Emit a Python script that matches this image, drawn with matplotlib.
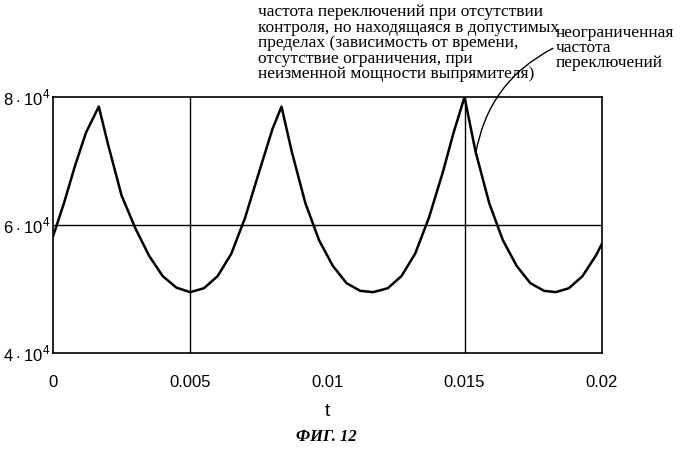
import matplotlib
matplotlib.use("Agg")
import matplotlib.pyplot as plt

t = [0, 0.0004, 0.0008, 0.0012, 0.00167, 0.002, 0.0025, 0.003, 0.0035, 0.004, 0.0045, 0.005,
     0.0055, 0.006, 0.0065, 0.007, 0.0075, 0.008, 0.00833, 0.0087, 0.0092, 0.0097, 0.0102,
     0.0107, 0.0112, 0.01167, 0.0122, 0.0127, 0.0132, 0.0137, 0.0142, 0.0146, 0.015, 0.0154,
     0.0159, 0.0164, 0.0169, 0.0174, 0.0179, 0.01833, 0.0188, 0.0193, 0.0198, 0.02]
f = [5.82, 6.34, 6.92, 7.44, 7.85, 7.27, 6.46, 5.95, 5.52, 5.2, 5.02, 4.95,
     5.01, 5.2, 5.55, 6.11, 6.81, 7.5, 7.85, 7.15, 6.34, 5.76, 5.36, 5.09, 4.97, 4.95,
     5.01, 5.2, 5.55, 6.11, 6.81, 7.44, 8.0, 7.15, 6.34, 5.76, 5.36, 5.09, 4.97, 4.95,
     5.01, 5.2, 5.53, 5.7]
f = [v * 1e4 for v in f]

xticks = [0, 0.005, 0.01, 0.015, 0.02]
xlabels = ["0", "0.005", "0.01", "0.015", "0.02"]
yticks = [4e4, 6e4, 8e4]
ylabels = [r"$4\cdot10^4$", r"$6\cdot10^4$", r"$8\cdot10^4$"]

plt.rcParams["font.family"] = "Liberation Sans"
plt.rcParams["mathtext.fontset"] = "custom"
plt.rcParams["mathtext.rm"] = "Liberation Sans"

fig = plt.figure(figsize=(6.99, 4.49), dpi=100)
ax = fig.add_axes([0.0758, 0.214, 0.785, 0.570])
ax.plot(t, f, color="black", lw=1.8)
ax.set_xlim(0, 0.02)
ax.set_ylim(4e4, 8e4)
ax.set_xticks(xticks)
ax.set_xticklabels(xlabels, fontsize=12)
ax.set_yticks(yticks)
ax.set_yticklabels(ylabels, fontsize=12)
ax.tick_params(axis="x", length=0, pad=16)
ax.tick_params(axis="y", length=0, pad=2)
ax.axvline(0.005, color="black", lw=1)
ax.axvline(0.015, color="black", lw=1)
ax.axhline(6e4, color="black", lw=1)
for s in ax.spines.values():
    s.set_linewidth(1.2)

ax.text(0.5, -0.23, "t", transform=ax.transAxes, ha="center", va="center", fontsize=14)
fig.text(0.467, 0.027, "ФИГ. 12", ha="center", va="center", fontsize=12,
         family="Liberation Serif", style="italic", weight="bold")

serif = dict(family="Liberation Serif", fontsize=12.5, linespacing=0.95)
fig.text(0.369, 0.99,
         "частота переключений при отсутствии\nконтроля, но находящаяся в допустимых\n"
         "пределах (зависимость от времени,\nотсутствие ограничения, при\n"
         "неизменной мощности выпрямителя)",
         ha="left", va="top", **serif)
ax.annotate("неограниченная\nчастота\nпереключений",
            xy=(0.0154, 7.1e4), xycoords="data", xytext=(0.795, 0.945), textcoords="figure fraction",
            ha="left", va="top", arrowprops=dict(arrowstyle="-", color="black", lw=1,
            connectionstyle="arc3,rad=0.25", shrinkA=0, shrinkB=0,
            relpos=(-0.02, 0.5)), **serif)

fig.savefig("out.png", dpi=100)
